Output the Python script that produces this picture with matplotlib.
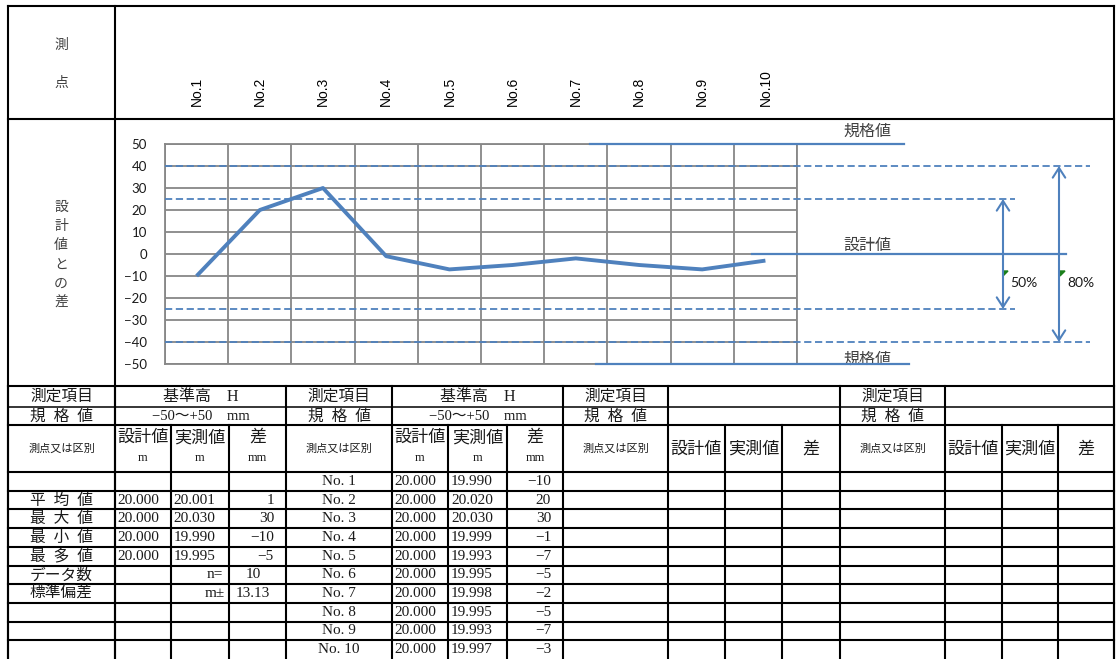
import matplotlib
matplotlib.use("Agg")
import matplotlib.pyplot as plt
import matplotlib.transforms as mtransforms
from matplotlib.patches import Polygon

# ---- measurement data: 基準高 H, design value 20.000 m, tolerance ±50 mm ----
points = ["No.1", "No.2", "No.3", "No.4", "No.5", "No.6", "No.7", "No.8", "No.9", "No.10"]
row_names = ["No. 1", "No. 2", "No. 3", "No. 4", "No. 5",
             "No. 6", "No. 7", "No. 8", "No. 9", "No. 10"]
design_m = [20.000, 20.000, 20.000, 20.000, 20.000, 20.000, 20.000, 20.000, 20.000, 20.000]
measured_m = [19.990, 20.020, 20.030, 19.999, 19.993, 19.995, 19.998, 19.995, 19.993, 19.997]
diff_mm = [-10, 20, 30, -1, -7, -5, -2, -5, -7, -3]

spec_limit = 50   # 規格値
band_80 = 40      # 80 % band
band_50 = 25      # 50 % band
y_ticks = [-50, -40, -30, -20, -10, 0, 10, 20, 30, 40, 50]

summary_labels = ["平\u2002均\u2002値", "最\u2002大\u2002値", "最\u2002小\u2002値",
                  "最\u2002多\u2002値", "データ数", "標準偏差"]
summary_design = [20.000, 20.000, 20.000, 20.000]
summary_measured = [20.001, 20.030, 19.990, 19.995]
summary_diff = [1, 30, -10, -5]
data_count = 10
std_dev = 13.13

item_name = "基準高　H"
spec_text = "−50～+50　mm"

# ---- styling ----
BLUE = "#4F81BD"
GRID = "#878787"
TXT = "#1a1a1a"
JP = ["Noto Sans CJK JP", "DejaVu Sans"]
SERIF = ["Liberation Serif", "Noto Sans CJK JP", "DejaVu Sans"]

W, H = 1119, 659
fig = plt.figure(figsize=(W / 100, H / 100), dpi=100)

# page layer in pixel units (y downwards)
base = fig.add_axes([0, 0, 1, 1])
base.set_xlim(0, W)
base.set_ylim(H, 0)
base.axis("off")

# chart layer
chart = fig.add_axes([165 / W, 1 - 364 / H, 632 / W, 220 / H])
xs = list(range(len(points)))
chart.set_xlim(-0.5, len(points) - 0.5)
chart.set_ylim(-spec_limit, spec_limit)
chart.set_yticks(y_ticks)
chart.set_xticks([i - 0.5 for i in range(len(points) + 1)])
chart.set_xticklabels([])
chart.tick_params(length=0, pad=13, labelsize=9.5, labelcolor=TXT)
for lab in chart.get_yticklabels():
    lab.set_family(["Lato", "DejaVu Sans"])
chart.grid(True, color=GRID, lw=1.3)
chart.set_axisbelow(True)
for sp in chart.spines.values():
    sp.set_color(GRID)
    sp.set_linewidth(1.3)

chart.plot(xs, diff_mm, color=BLUE, lw=2.8, solid_joinstyle="round",
           solid_capstyle="butt", zorder=5)

# reference lines reaching past the plot (x in page pixels, y in chart units)
blend = mtransforms.blended_transform_factory(base.transData, chart.transData)
for v in (band_80, -band_80):
    chart.plot([165, 1090], [v, v], transform=blend, color=BLUE, lw=1.3,
               ls=(0, (4, 2)), clip_on=False, zorder=4)
for v in (band_50, -band_50):
    chart.plot([165, 1015], [v, v], transform=blend, color=BLUE, lw=1.3,
               ls=(0, (4, 2)), clip_on=False, zorder=4)
chart.plot([590, 904], [spec_limit, spec_limit], transform=blend, color=BLUE,
           lw=1.6, clip_on=False, zorder=4)
chart.plot([596, 909], [-spec_limit, -spec_limit], transform=blend, color=BLUE,
           lw=1.6, clip_on=False, zorder=4)
chart.plot([752, 1066], [0, 0], transform=blend, color=BLUE, lw=1.6,
           clip_on=False, zorder=4)

for xp, v in ((1003, band_50), (1059, band_80)):
    chart.annotate("", xy=(xp, v), xytext=(xp, -v), xycoords=blend,
                   textcoords=blend, annotation_clip=False,
                   arrowprops=dict(arrowstyle="<->,head_length=0.7,head_width=0.45",
                                   color=BLUE, lw=1.5, shrinkA=0, shrinkB=0,
                                   mutation_scale=10))

base.text(867, 131, "規格値", family=JP, fontsize=11.5, color="#404040",
          ha="center", va="center")
base.text(867, 359, "規格値", family=JP, fontsize=11.5, color="#404040",
          ha="center", va="center")
base.text(867, 245, "設計値", family=JP, fontsize=11.5, color="#404040",
          ha="center", va="center")
for xl, lab in ((1010, "50%"), (1067, "80%")):
    base.text(xl, 283, lab, family=["Lato", "DejaVu Sans"], fontsize=10,
              color=TXT, ha="left", va="center")
    base.add_patch(Polygon([(xl - 7, 271), (xl - 2, 271), (xl - 7, 276)],
                           closed=True, color="#1a7f1a", zorder=6))

# measuring point headers
hdr = mtransforms.blended_transform_factory(chart.transData, base.transData)
for i, p in enumerate(points):
    base.text(i, 106, p, transform=hdr, rotation=90, ha="center", va="bottom",
              family=["Liberation Sans", "DejaVu Sans"], fontsize=10, color="black")

base.text(61, 45, "測", family=JP, fontsize=10, color="#404040", ha="center", va="center")
base.text(61, 83, "点", family=JP, fontsize=10, color="#404040", ha="center", va="center")
for k, ch in enumerate("設計値との差"):
    base.text(61, 207 + k * 19.2, ch, family=JP, fontsize=10, color="#404040",
              ha="center", va="center")


# ---- frame and table ----
def hline(y, x0, x1, lw=1.5):
    base.plot([x0, x1], [y, y], color="black", lw=lw, solid_capstyle="projecting")


def vline(x, y0, y1, lw=1.5):
    base.plot([x, x], [y0, y1], color="black", lw=lw, solid_capstyle="projecting")


L, R, TOP, BOT = 8, 1114, 6, H
hline(TOP, L, R)
hline(119, L, R)
vline(L, TOP, BOT)
vline(R, TOP, BOT)
vline(115, TOP, BOT)

blocks = [(8, 115, 171, 229, 286), (286, 392, 448, 507, 563),
          (563, 668, 725, 782, 840), (840, 945, 1002, 1058, 1114)]
r_item, r_spec, r_head, r_data = 386, 407, 425, 472
row_h = (H - r_data) / 10

hline(r_item, L, R)
hline(r_spec, L, R, lw=1.1)
hline(r_head, L, R)
for k in range(10):
    hline(r_data + k * row_h, L, R)
for b in blocks:
    vline(b[0], r_item, BOT)
    vline(b[1], r_item, BOT)
    vline(b[2], r_head, BOT)
    vline(b[3], r_head, BOT)
vline(R, r_item, BOT)


def cell(x, y, s, ha="center", size=11, fam=SERIF):
    base.text(x, y, s, ha=ha, va="center", family=fam, fontsize=size, color=TXT)


def fmt_diff(v):
    return str(v).replace("-", "−")


yc_item = (r_item + r_spec) / 2
yc_spec = (r_spec + r_head) / 2 + 0.5
for bi, b in enumerate(blocks):
    lc = (b[0] + b[1]) / 2
    cell(lc, yc_item, "測定項目", fam=JP, size=11.3)
    cell(lc, yc_spec, "規\u2002格\u2002値", fam=JP, size=11.3)
    cell(lc, (r_head + r_data) / 2, "測点又は区別", fam=JP, size=8)
    cols = [(b[1] + b[2]) / 2, (b[2] + b[3]) / 2, (b[3] + b[4]) / 2]
    heads = ["設計値", "実測値", "差"]
    if bi < 2:
        vc = (b[1] + b[4]) / 2
        cell(vc, yc_item, item_name, size=11.5)
        cell(vc, yc_spec, spec_text, size=10.5)
        units = ["m", "m", "mm"]
        for cx, hd, u in zip(cols, heads, units):
            cell(cx, 437, hd, fam=JP, size=12.3)
            cell(cx, 458, u, size=9)
    else:
        for cx, hd in zip(cols, heads):
            cell(cx, (r_head + r_data) / 2, hd, fam=JP, size=12.3)


def row_y(k):
    return r_data + row_h * (k + 0.5)


# summary block
b = blocks[0]
for k, lab in enumerate(summary_labels):
    cell((b[0] + b[1]) / 2, row_y(k + 1), lab, fam=JP, size=11.3)
for k in range(len(summary_design)):
    y = row_y(k + 1)
    cell(b[1] + 2.5, y, f"{summary_design[k]:.3f}", ha="left")
    cell(b[2] + 2.5, y, f"{summary_measured[k]:.3f}", ha="left")
    cell(b[4] - 12, y, fmt_diff(summary_diff[k]), ha="right")
cell(b[3] - 6, row_y(5), "n=", ha="right")
cell(253, row_y(5), f"{data_count}")
cell(b[3] - 4, row_y(6), "m±", ha="right")
cell(253, row_y(6), f"{std_dev:.2f}")

# per-point block
b = blocks[1]
for k in range(len(points)):
    y = row_y(k)
    cell((b[0] + b[1]) / 2, y, row_names[k])
    cell(b[1] + 2.5, y, f"{design_m[k]:.3f}", ha="left")
    cell(b[2] + 3, y, f"{measured_m[k]:.3f}", ha="left")
    cell(b[4] - 12, y, fmt_diff(diff_mm[k]), ha="right")

fig.savefig("out.png", dpi=100)
